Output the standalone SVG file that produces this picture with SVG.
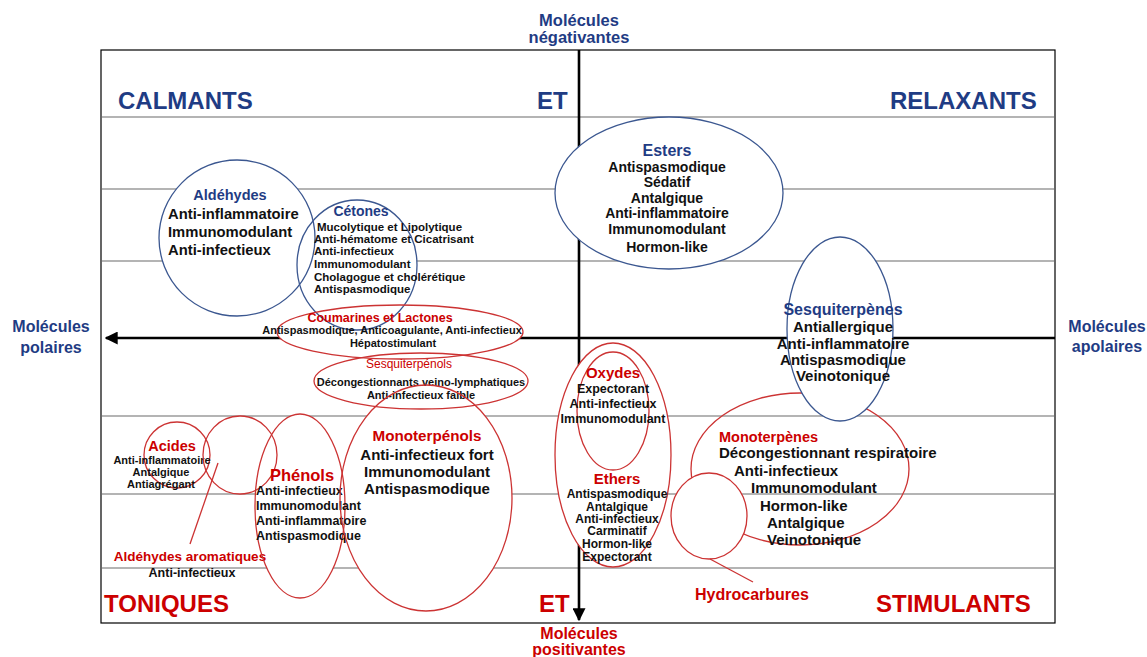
<svg xmlns="http://www.w3.org/2000/svg" width="1147" height="657" viewBox="0 0 1147 657">
<defs>
<style>
text{font-family:"Liberation Sans",Arial,sans-serif;font-weight:bold;}
.navy{fill:#1F3C84;}
.red{fill:#CC0000;}
.blk{fill:#111111;}
.mid{text-anchor:middle;}
.grid{stroke:#B4B4B4;stroke-width:2;}
.axis{stroke:#000;stroke-width:2.6;fill:none;}
.bshape{fill:none;stroke:#3B5790;stroke-width:1.3;}
.rshape{fill:none;stroke:#CC3333;stroke-width:1.3;}
.ptr{stroke:#CC3333;stroke-width:1.3;fill:none;}
.big{font-size:24px;}
</style>
<marker id="ah" viewBox="0 0 10 10" refX="9" refY="5" markerWidth="5" markerHeight="5" orient="auto" markerUnits="strokeWidth">
<path d="M0,0 L10,5 L0,10 z" fill="#000"/>
</marker>
</defs>

<rect x="0" y="0" width="1147" height="657" fill="#fff"/>
<rect x="101" y="50" width="954" height="573" fill="#fff" stroke="#000" stroke-width="1.2"/>

<g id="grid">
<line class="grid" x1="102" y1="117" x2="1054" y2="117"/>
<line class="grid" x1="102" y1="189" x2="1054" y2="189"/>
<line class="grid" x1="102" y1="261" x2="1054" y2="261"/>
<line class="grid" x1="102" y1="416" x2="1054" y2="416"/>
<line class="grid" x1="102" y1="494" x2="1054" y2="494"/>
<line class="grid" x1="102" y1="568" x2="1054" y2="568"/>
</g>

<g id="axes">
<line class="axis" x1="579" y1="50" x2="579" y2="620" marker-end="url(#ah)"/>
<line class="axis" x1="1055" y1="338" x2="106" y2="338" marker-end="url(#ah)"/>
</g>

<g id="backdrop" fill="#fff">
<ellipse cx="237" cy="238" rx="78" ry="78"/>
<ellipse cx="357" cy="265" rx="60" ry="65"/>
<ellipse cx="669" cy="193" rx="114" ry="76"/>
<ellipse cx="400" cy="332" rx="123" ry="27"/>
<ellipse cx="421" cy="381" rx="107" ry="28"/>
<ellipse cx="177" cy="455" rx="33" ry="33"/>
<ellipse cx="240" cy="455" rx="37" ry="39"/>
<ellipse cx="300" cy="506" rx="45" ry="92"/>
<ellipse cx="426" cy="498" rx="86" ry="113"/>
<ellipse cx="613" cy="455" rx="58" ry="112"/>
<ellipse cx="613" cy="411" rx="36" ry="59"/>
</g>

<g id="labels">
<text class="navy big" x="118" y="109">CALMANTS</text>
<text class="navy big" x="537" y="109">ET</text>
<text class="navy big" x="890" y="109">RELAXANTS</text>
<text class="red big" x="104" y="612">TONIQUES</text>
<text class="red big" x="539" y="612">ET</text>
<text class="red big" x="876" y="612">STIMULANTS</text>
<text class="navy mid" x="579" y="26" font-size="16.5">Molécules</text>
<text class="navy mid" x="579" y="43" font-size="16.5">négativantes</text>
<text class="red mid" x="579" y="639" font-size="16">Molécules</text>
<text class="red mid" x="579" y="655" font-size="16">positivantes</text>
<text class="navy mid" x="51" y="332" font-size="16">Molécules</text>
<text class="navy mid" x="51" y="353" font-size="16">polaires</text>
<text class="navy mid" x="1107" y="332" font-size="16">Molécules</text>
<text class="navy mid" x="1107" y="352" font-size="16">apolaires</text>
</g>

<g id="aldehydes">
<ellipse class="bshape" cx="237" cy="238" rx="78" ry="78"/>
<text class="navy mid" x="230" y="200" font-size="14.5">Aldéhydes</text>
<text class="blk" x="168" y="219" font-size="14.8">Anti-inflammatoire</text>
<text class="blk" x="168" y="237" font-size="14.8">Immunomodulant</text>
<text class="blk" x="168" y="255" font-size="14.8">Anti-infectieux</text>
</g>

<g id="cetones">
<ellipse class="bshape" cx="357" cy="265" rx="60" ry="65"/>
<text class="navy mid" x="361" y="216" font-size="14">Cétones</text>
<text class="blk" x="317" y="231" font-size="11.5">Mucolytique et Lipolytique</text>
<text class="blk" x="314" y="243" font-size="11.5">Anti-hématome et Cicatrisant</text>
<text class="blk" x="314" y="255" font-size="11.5">Anti-infectieux</text>
<text class="blk" x="314" y="268" font-size="11.5">Immunomodulant</text>
<text class="blk" x="314" y="281" font-size="11.5">Cholagogue et cholérétique</text>
<text class="blk" x="314" y="293" font-size="11.5">Antispasmodique</text>
</g>

<g id="esters">
<ellipse class="bshape" cx="669" cy="193" rx="114" ry="76"/>
<text class="navy mid" x="667" y="156" font-size="16">Esters</text>
<text class="blk mid" x="667" y="172" font-size="14">Antispasmodique</text>
<text class="blk mid" x="667" y="187" font-size="14">Sédatif</text>
<text class="blk mid" x="667" y="203" font-size="14">Antalgique</text>
<text class="blk mid" x="667" y="218" font-size="14">Anti-inflammatoire</text>
<text class="blk mid" x="667" y="234" font-size="14">Immunomodulant</text>
<text class="blk mid" x="667" y="252" font-size="14">Hormon-like</text>
</g>

<g id="coumarines">
<ellipse class="rshape" cx="400" cy="332" rx="123" ry="27"/>
<text class="red mid" x="380" y="322" font-size="12.5">Coumarines et Lactones</text>
<text class="blk mid" x="392" y="334" font-size="11">Antispasmodique, Anticoagulante, Anti-infectieux</text>
<text class="blk mid" x="393" y="347" font-size="11">Hépatostimulant</text>
</g>

<g id="sesquiterpenols">
<ellipse class="rshape" cx="421" cy="381" rx="107" ry="28"/>
<text class="red mid" x="409" y="368" font-size="12" style="font-weight:normal">Sesquiterpénols</text>
<text class="blk mid" x="421" y="386" font-size="11">Décongestionnants veino-lymphatiques</text>
<text class="blk mid" x="421" y="399" font-size="11">Anti-infectieux faible</text>
</g>

<g id="monoterpenes">
<ellipse class="rshape" cx="800" cy="469" rx="109" ry="76"/>
<text class="red" x="719" y="442" font-size="14.5">Monoterpènes</text>
<text class="blk" x="719" y="458" font-size="15">Décongestionnant respiratoire</text>
<text class="blk" x="734" y="476" font-size="15">Anti-infectieux</text>
<text class="blk" x="751" y="493" font-size="15">Immunomodulant</text>
<text class="blk" x="760" y="511" font-size="15">Hormon-like</text>
<text class="blk" x="767" y="528" font-size="15">Antalgique</text>
<text class="blk" x="767" y="545" font-size="15">Veinotonique</text>
</g>

<g id="sesquiterpenes">
<ellipse class="bshape" cx="840" cy="329" rx="53" ry="92" style="fill:#fff"/>
<text class="navy mid" x="843" y="315" font-size="16">Sesquiterpènes</text>
<text class="blk mid" x="843" y="332" font-size="15">Antiallergique</text>
<text class="blk mid" x="843" y="349" font-size="15">Anti-inflammatoire</text>
<text class="blk mid" x="843" y="365" font-size="15">Antispasmodique</text>
<text class="blk mid" x="843" y="381" font-size="15">Veinotonique</text>
</g>

<g id="hydrocarbures">
<ellipse class="rshape" cx="709" cy="516" rx="38" ry="43" style="fill:#fff"/>
<text class="red" x="695" y="600" font-size="16">Hydrocarbures</text>
</g>

<g id="acides">
<ellipse class="rshape" cx="177" cy="455" rx="33" ry="33"/>
<text class="red mid" x="172" y="451" font-size="14.5">Acides</text>
<text class="blk mid" x="162" y="464" font-size="11">Anti-inflammatoire</text>
<text class="blk mid" x="161" y="476" font-size="11">Antalgique</text>
<text class="blk mid" x="161" y="488" font-size="11">Antiagrégant</text>
</g>

<g id="aldehydes-aromatiques">
<ellipse class="rshape" cx="240" cy="455" rx="37" ry="39"/>
<text class="red mid" x="190" y="561" font-size="13.5">Aldéhydes aromatiques</text>
<text class="blk mid" x="192" y="577" font-size="12.5">Anti-infectieux</text>
</g>

<g id="phenols">
<ellipse class="rshape" cx="300" cy="506" rx="45" ry="92"/>
<text class="red mid" x="302" y="481" font-size="16.5">Phénols</text>
<text class="blk" x="256" y="495" font-size="12.5">Anti-infectieux</text>
<text class="blk" x="256" y="510" font-size="12.5">Immunomodulant</text>
<text class="blk" x="256" y="525" font-size="12.5">Anti-inflammatoire</text>
<text class="blk" x="256" y="540" font-size="12.5">Antispasmodique</text>
</g>

<g id="monoterpenols">
<ellipse class="rshape" cx="426" cy="498" rx="86" ry="113"/>
<text class="red mid" x="427" y="441" font-size="15.2">Monoterpénols</text>
<text class="blk mid" x="427" y="460" font-size="15">Anti-infectieux fort</text>
<text class="blk mid" x="427" y="477" font-size="15">Immunomodulant</text>
<text class="blk mid" x="427" y="494" font-size="15">Antispasmodique</text>
</g>

<g id="ethers">
<ellipse class="rshape" cx="613" cy="455" rx="58" ry="112"/>
<text class="red mid" x="617" y="484" font-size="15">Ethers</text>
<text class="blk mid" x="617" y="498" font-size="12">Antispasmodique</text>
<text class="blk mid" x="617" y="511" font-size="12">Antalgique</text>
<text class="blk mid" x="617" y="523" font-size="12">Anti-infectieux</text>
<text class="blk mid" x="617" y="535" font-size="12">Carminatif</text>
<text class="blk mid" x="617" y="548" font-size="12">Hormon-like</text>
<text class="blk mid" x="617" y="561" font-size="12">Expectorant</text>
</g>

<g id="oxydes">
<ellipse class="rshape" cx="613" cy="411" rx="36" ry="59"/>
<text class="red mid" x="613" y="378" font-size="15">Oxydes</text>
<text class="blk mid" x="613" y="393" font-size="12.5">Expectorant</text>
<text class="blk mid" x="613" y="408" font-size="12.5">Anti-infectieux</text>
<text class="blk mid" x="613" y="423" font-size="12.5">Immunomodulant</text>
</g>

<g id="connectors">
<line class="ptr" x1="218" y1="463" x2="190" y2="544"/>
<line class="ptr" x1="710" y1="559" x2="753" y2="582"/>
</g>
</svg>
